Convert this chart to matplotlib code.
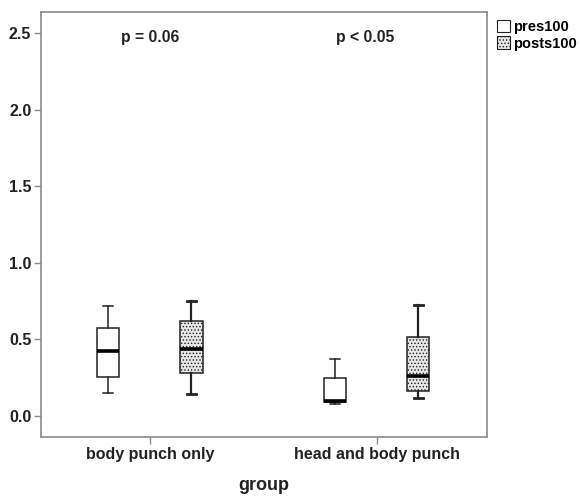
import matplotlib.pyplot as plt
from matplotlib.patches import Patch

plt.rcParams['font.family'] = ['Liberation Sans', 'DejaVu Sans']
plt.rcParams['hatch.color'] = '#9a9a9a'
plt.rcParams['hatch.linewidth'] = 0.6

# Data
groups = ['body punch only', 'head and body punch']
series = ['pres100', 'posts100']
p_labels = ['p = 0.06', 'p < 0.05']

# per series, per group: whisker low, q1, median, q3, whisker high
pres_low = [0.148, 0.080]
pres_q1 = [0.257, 0.090]
pres_med = [0.422, 0.097]
pres_q3 = [0.572, 0.246]
pres_high = [0.718, 0.372]

posts_low = [0.141, 0.115]
posts_q1 = [0.279, 0.163]
posts_med = [0.439, 0.261]
posts_q3 = [0.618, 0.515]
posts_high = [0.753, 0.725]

COLOR_EDGE = '#222222'
COLOR_FRAME = '#8a8a8a'
POST_FACE = '#e6e6e6'


def make_stats(low, q1, med, q3, high):
    return [dict(whislo=a, q1=b, med=c, q3=d, whishi=e, fliers=[])
            for a, b, c, d, e in zip(low, q1, med, q3, high)]


fig = plt.figure(figsize=(5.8, 4.97), dpi=100)
ax = fig.add_axes([0.0707, 0.1207, 0.769, 0.855])

offset = 0.183
width = 0.097
pos = list(range(len(groups)))

line_kw = dict(color=COLOR_EDGE, linewidth=1.1)
med_kw = dict(color='black', linewidth=2.6)

bp1 = ax.bxp(make_stats(pres_low, pres_q1, pres_med, pres_q3, pres_high),
             positions=[p - offset for p in pos], widths=width,
             patch_artist=True, showfliers=False,
             boxprops=dict(facecolor='white', edgecolor=COLOR_EDGE, linewidth=1.1),
             whiskerprops=line_kw, capprops=line_kw, medianprops=med_kw,
             capwidths=width * 0.45)
bp2 = ax.bxp(make_stats(posts_low, posts_q1, posts_med, posts_q3, posts_high),
             positions=[p + offset for p in pos], widths=width,
             patch_artist=True, showfliers=False,
             boxprops=dict(facecolor=POST_FACE, edgecolor=COLOR_EDGE,
                           linewidth=1.1, hatch='.....'),
             whiskerprops=dict(color=COLOR_EDGE, linewidth=1.6),
             capprops=dict(color=COLOR_EDGE, linewidth=2.0), medianprops=med_kw,
             capwidths=width * 0.45)

ax.set_xlim(-0.48, 1.485)
ax.set_ylim(-0.137, 2.637)
ax.set_yticks([0.0, 0.5, 1.0, 1.5, 2.0, 2.5])
ax.set_yticklabels(['0.0', '0.5', '1.0', '1.5', '2.0', '2.5'])
ax.set_xticks(pos)
ax.set_xticklabels(groups)

for s in ax.spines.values():
    s.set_color(COLOR_FRAME)
    s.set_linewidth(1.2)
ax.tick_params(axis='both', direction='out', length=5, width=1.0,
               color=COLOR_FRAME, labelsize=11.5, pad=2)
for lab in ax.get_xticklabels() + ax.get_yticklabels():
    lab.set_fontweight('bold')
    lab.set_color('#222222')

ax.set_xlabel('group', fontsize=13, fontweight='bold', labelpad=11, color='#222222')

# p-value annotations
ax.text(0.0, 2.47, p_labels[0], ha='center', va='center',
        fontsize=11.3, fontweight='bold', color='#222222')
ax.text(0.95, 2.47, p_labels[1], ha='center', va='center',
        fontsize=11.3, fontweight='bold', color='#222222')

handles = [Patch(facecolor='white', edgecolor=COLOR_EDGE, linewidth=0.8),
           Patch(facecolor=POST_FACE, edgecolor=COLOR_EDGE, linewidth=0.8,
                 hatch='.....')]
leg = ax.legend(handles, series, loc='upper left', bbox_to_anchor=(1.0, 1.005),
                frameon=False, handlelength=0.9, handleheight=0.9,
                handletextpad=0.2, labelspacing=0.15, borderaxespad=0.3,
                prop=dict(size=10.5, weight='bold'))

fig.savefig('out.png', dpi=100, facecolor='white')
plt.close(fig)
